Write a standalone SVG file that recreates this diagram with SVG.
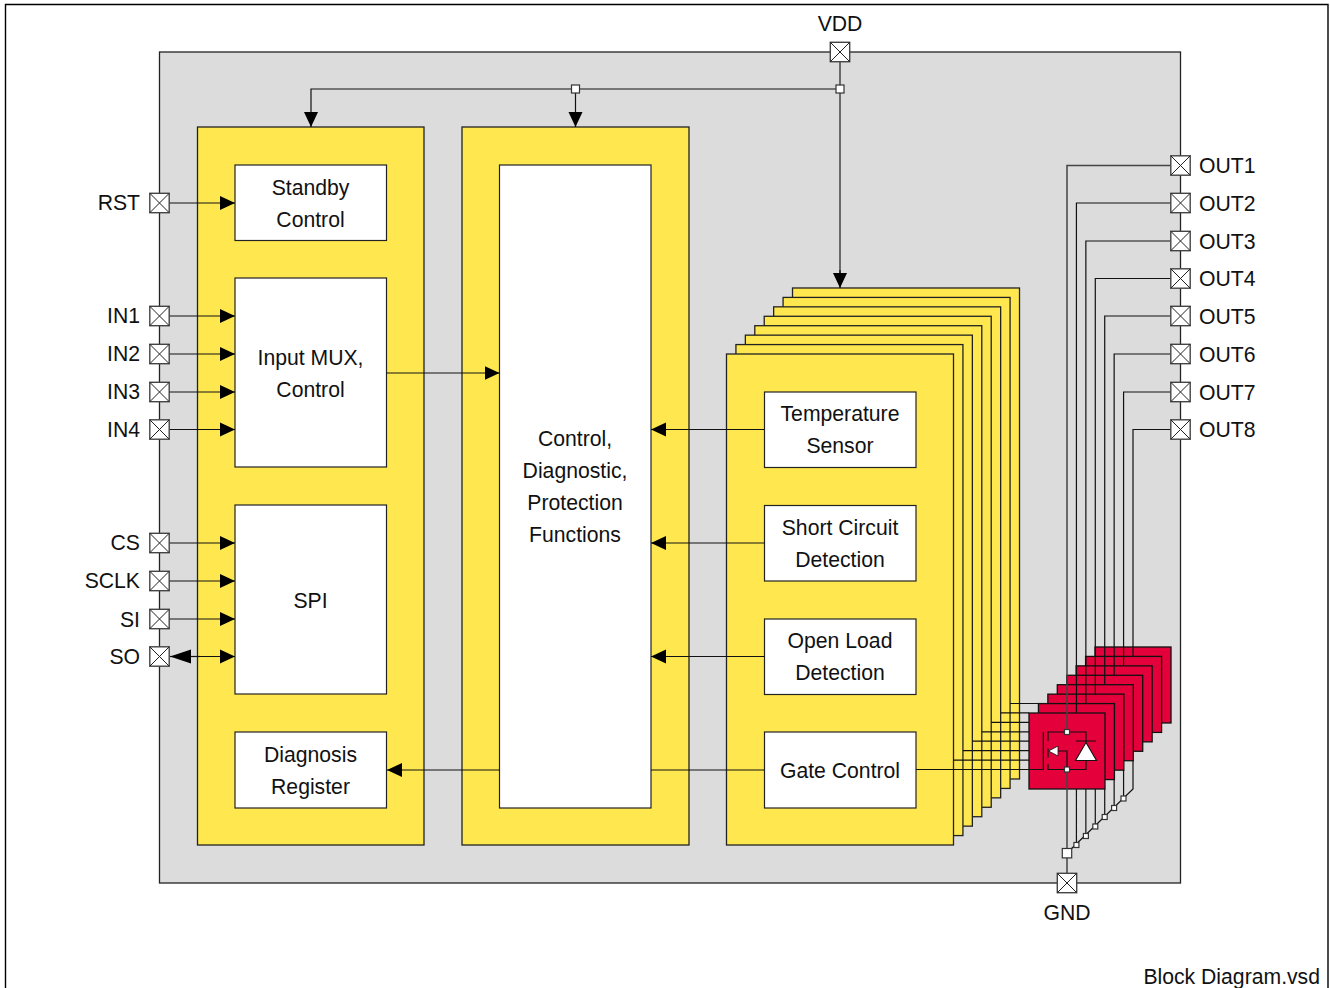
<svg xmlns="http://www.w3.org/2000/svg" width="1330" height="988" viewBox="0 0 1330 988">
<style>
text{font-family:"Liberation Sans",Arial,sans-serif;font-size:21.2px;fill:#111}
.m{text-anchor:middle}.e{text-anchor:end}
.y{fill:#FFE84F;stroke:#222;stroke-width:1.3}
.r{fill:#E4003A;stroke:#111;stroke-width:1.3}
.w{fill:#fff;stroke:#222;stroke-width:1.2}
.l{fill:none;stroke:#111;stroke-width:1.2}
.g{fill:none;stroke:#444;stroke-width:1.5}
.d{fill:#fff;stroke:#333;stroke-width:1.2}
.p{fill:#fff;stroke:#444;stroke-width:1.4}
</style>
<defs>
<marker id="a" markerUnits="userSpaceOnUse" markerWidth="16" markerHeight="16" refX="15" refY="7.5" orient="auto"><path d="M0,0.5L15,7.5L0,14.5z" fill="#000"/></marker>
<marker id="b" markerUnits="userSpaceOnUse" markerWidth="22" markerHeight="16" refX="21" refY="7.5" orient="auto"><path d="M0,0.5L21,7.5L0,14.5z" fill="#000"/></marker>
<g id="pin"><rect class="p" x="-9.7" y="-9.7" width="19.4" height="19.4"/><path d="M-9.7,-9.7L9.7,9.7M-9.7,9.7L9.7,-9.7" fill="none" stroke="#222" stroke-width="1"/></g>
</defs>
<path id="frame" d="M5.5,988V4.5H1328V988" fill="none" stroke="#000" stroke-width="1.4"/>
<g id="chip"><rect x="159.5" y="52" width="1021" height="831" fill="#DCDCDC" stroke="#222" stroke-width="1.3"/></g>

<g id="stack-layers">
<rect class="y" x="792.51" y="287.99" width="227" height="491"/>
<rect class="y" x="783.08" y="297.42" width="227" height="491"/>
<rect class="y" x="773.65" y="306.85" width="227" height="491"/>
<rect class="y" x="764.22" y="316.28" width="227" height="491"/>
<rect class="y" x="754.79" y="325.71" width="227" height="491"/>
<rect class="y" x="745.36" y="335.14" width="227" height="491"/>
<rect class="y" x="735.93" y="344.57" width="227" height="491"/>
</g>
<g id="power-switches">
<rect class="r" x="1095.01" y="646.99" width="76" height="76"/>
<rect class="r" x="1085.58" y="656.42" width="76" height="76"/>
<rect class="r" x="1076.15" y="665.85" width="76" height="76"/>
<rect class="r" x="1066.72" y="675.28" width="76" height="76"/>
<rect class="r" x="1057.29" y="684.71" width="76" height="76"/>
<rect class="r" x="1047.86" y="694.14" width="76" height="76"/>
<rect class="r" x="1038.43" y="703.57" width="76" height="76"/>
<rect class="r" x="1029" y="713" width="76" height="76"/>
</g>
<g id="block-left"><rect class="y" x="197.5" y="127" width="226.5" height="718"/></g>
<g id="block-center"><rect class="y" x="462" y="127" width="227" height="718"/></g>
<g id="block-stack"><rect class="y" x="726.5" y="354" width="227" height="491"/></g>

<g id="standby-control"><rect class="w" x="235" y="165" width="151.500" height="75.500"/><text class="m" x="310.500" y="195">Standby</text><text class="m" x="310.500" y="226.500">Control</text></g>
<g id="input-mux"><rect class="w" x="235" y="278" width="151.500" height="189"/><text class="m" x="310.500" y="365">Input MUX,</text><text class="m" x="310.500" y="397">Control</text></g>
<g id="spi"><rect class="w" x="235" y="505" width="151.500" height="189"/><text class="m" x="310.500" y="607.500">SPI</text></g>
<g id="diagnosis-register"><rect class="w" x="235" y="732" width="151.500" height="76"/><text class="m" x="310.500" y="762">Diagnosis</text><text class="m" x="310.500" y="794">Register</text></g>
<g id="control-functions"><rect class="w" x="499.500" y="165" width="151.500" height="643"/><text class="m" x="575" y="446">Control,</text><text class="m" x="575" y="478">Diagnostic,</text><text class="m" x="575" y="510">Protection</text><text class="m" x="575" y="542">Functions</text></g>
<g id="temperature-sensor"><rect class="w" x="764.500" y="392" width="151.500" height="75.500"/><text class="m" x="840" y="421">Temperature</text><text class="m" x="840" y="453">Sensor</text></g>
<g id="short-circuit"><rect class="w" x="764.500" y="505.500" width="151.500" height="75.500"/><text class="m" x="840" y="535">Short Circuit</text><text class="m" x="840" y="566.500">Detection</text></g>
<g id="open-load"><rect class="w" x="764.500" y="619" width="151.500" height="75.500"/><text class="m" x="840" y="648">Open Load</text><text class="m" x="840" y="680">Detection</text></g>
<g id="gate-control"><rect class="w" x="764.500" y="732" width="151.500" height="76"/><text class="m" x="840" y="778">Gate Control</text></g>

<g id="connectors">
<path class="g" d="M840,62V275"/>
<path class="l" d="M840,270V288" marker-end="url(#a)"/>
<path class="l" d="M840,89H311V127" marker-end="url(#a)"/>
<path class="l" d="M575.500,89V127" marker-end="url(#a)"/>
<path class="l" d="M169,203H235" marker-end="url(#a)"/>
<path class="l" d="M169,316H235" marker-end="url(#a)"/>
<path class="l" d="M169,354H235" marker-end="url(#a)"/>
<path class="l" d="M169,392H235" marker-end="url(#a)"/>
<path class="l" d="M169,429.500H235" marker-end="url(#a)"/>
<path class="l" d="M169,543H235" marker-end="url(#a)"/>
<path class="l" d="M169,581H235" marker-end="url(#a)"/>
<path class="l" d="M169,619H235" marker-end="url(#a)"/>
<path class="l" d="M200,656.500H235" marker-end="url(#a)"/>
<path class="l" d="M200,656.500H170" marker-end="url(#b)"/>
<path class="l" d="M386.500,373H499.500" marker-end="url(#a)"/>
<path class="l" d="M764.500,429.500H651" marker-end="url(#a)"/>
<path class="l" d="M764.500,543H651" marker-end="url(#a)"/>
<path class="l" d="M764.500,656.500H651" marker-end="url(#a)"/>
<path class="l" d="M764.500,770H651M499.500,770H387" marker-end="url(#a)"/>
<path class="l" d="M916,769.500H1043.300V732"/>
<path class="l" d="M953.500,760.070H1029M962.930,750.640H1029M972.360,741.210H1029M981.790,731.780H1029M991.220,722.350H1029M1000.650,712.920H1029M1010.080,703.490H1038.430"/>
<path class="g" d="M1170.500,165.500H1067V732"/>
<path class="l" d="M1170.500,203H1076.430V713"/>
<path class="l" d="M1170.500,241H1085.860V703.570"/>
<path class="l" d="M1170.500,278.500H1095.290V694.140"/>
<path class="l" d="M1170.500,316H1104.720V684.710"/>
<path class="l" d="M1170.500,354H1114.150V675.280"/>
<path class="l" d="M1170.500,392H1123.580V665.850"/>
<path class="l" d="M1170.500,429.500H1133V656.420"/>
<path class="g" d="M1067,769.500V873"/>
<path class="l" d="M1076.430,789V845M1085.860,789V836M1095.290,789V826.500M1104.720,789V817M1114.150,779.600V808M1123.580,770V798.500M1133,760.700V789L1067,853"/>
<path class="l" d="M1048,741V732H1086V769.500H1048V764M1048,748.500V757.500M1058,751H1067V769.500M1076,741H1096"/>
<path d="M1086,742.500L1096.500,760.500H1075.500z" fill="#fff" stroke="#111" stroke-width="1.1"/>
<path d="M1048.500,751L1058,746V756z" fill="#fff" stroke="#111" stroke-width="0.8"/>
<rect class="d" x="1064.500" y="729.500" width="5" height="5"/>
<rect class="d" x="1064.500" y="767" width="5" height="5"/>
<rect class="d" x="1073.900" y="842.500" width="5" height="5"/>
<rect class="d" x="1083.400" y="833.500" width="5" height="5"/>
<rect class="d" x="1092.800" y="824" width="5" height="5"/>
<rect class="d" x="1102.200" y="814.500" width="5" height="5"/>
<rect class="d" x="1111.600" y="805.500" width="5" height="5"/>
<rect class="d" x="1121" y="796" width="5" height="5"/>
<rect class="d" x="1062.300" y="848.500" width="9.400" height="9.400"/>
<rect class="d" x="571.500" y="85" width="8" height="8"/>
<rect class="d" x="836" y="85" width="8" height="8"/>
</g>

<g id="pin-rst"><use href="#pin" x="159.500" y="203"/><text class="e" x="140" y="210">RST</text></g>
<g id="pin-in1"><use href="#pin" x="159.500" y="316"/><text class="e" x="140" y="323">IN1</text></g>
<g id="pin-in2"><use href="#pin" x="159.500" y="354"/><text class="e" x="140" y="361">IN2</text></g>
<g id="pin-in3"><use href="#pin" x="159.500" y="392"/><text class="e" x="140" y="399">IN3</text></g>
<g id="pin-in4"><use href="#pin" x="159.500" y="429.500"/><text class="e" x="140" y="436.500">IN4</text></g>
<g id="pin-cs"><use href="#pin" x="159.500" y="543"/><text class="e" x="140" y="550">CS</text></g>
<g id="pin-sclk"><use href="#pin" x="159.500" y="581"/><text class="e" x="140" y="588">SCLK</text></g>
<g id="pin-si"><use href="#pin" x="159.500" y="619"/><text class="e" x="140" y="626.500">SI</text></g>
<g id="pin-so"><use href="#pin" x="159.500" y="656.500"/><text class="e" x="140" y="663.500">SO</text></g>
<g id="pin-vdd"><use href="#pin" x="840" y="52"/><text class="m" x="840" y="30.500">VDD</text></g>
<g id="pin-gnd"><use href="#pin" x="1067" y="883"/><text class="m" x="1067" y="919.500">GND</text></g>
<g id="pin-out1"><use href="#pin" x="1180.500" y="165.500"/><text x="1199" y="172.500">OUT1</text></g>
<g id="pin-out2"><use href="#pin" x="1180.500" y="203"/><text x="1199" y="210.500">OUT2</text></g>
<g id="pin-out3"><use href="#pin" x="1180.500" y="241"/><text x="1199" y="248.500">OUT3</text></g>
<g id="pin-out4"><use href="#pin" x="1180.500" y="278.500"/><text x="1199" y="285.500">OUT4</text></g>
<g id="pin-out5"><use href="#pin" x="1180.500" y="316"/><text x="1199" y="323.500">OUT5</text></g>
<g id="pin-out6"><use href="#pin" x="1180.500" y="354"/><text x="1199" y="361.500">OUT6</text></g>
<g id="pin-out7"><use href="#pin" x="1180.500" y="392"/><text x="1199" y="399.500">OUT7</text></g>
<g id="pin-out8"><use href="#pin" x="1180.500" y="429.500"/><text x="1199" y="436.500">OUT8</text></g>
<text class="e" x="1320" y="984">Block Diagram.vsd</text>
</svg>
